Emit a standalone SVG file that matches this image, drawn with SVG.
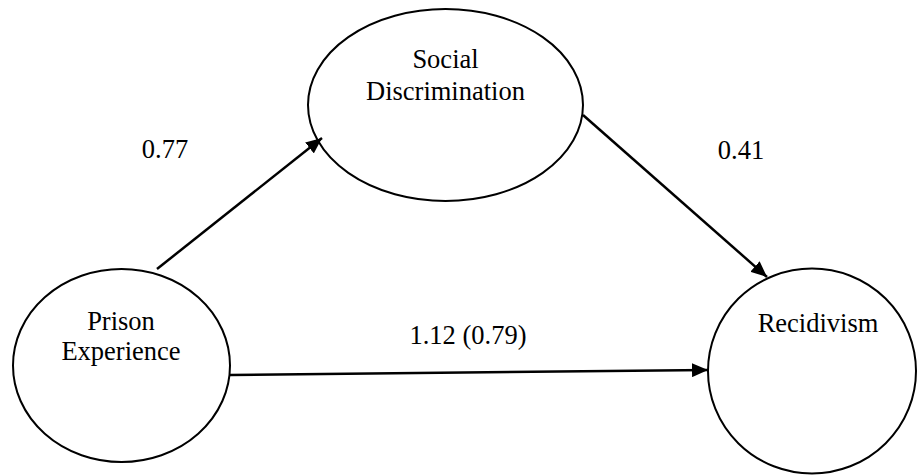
<svg xmlns="http://www.w3.org/2000/svg" width="919" height="475" viewBox="0 0 919 475">
  <style>
    .node { fill: #ffffff; stroke: #000000; stroke-width: 2; }
    .label { font-family: "Liberation Serif", "Times New Roman", serif; font-size: 26.5px; fill: #000000; }
    .edge { stroke: #000000; stroke-width: 2.5; fill: none; marker-end: url(#arrow); }
  </style>
  <defs>
    <marker id="arrow" markerUnits="userSpaceOnUse" markerWidth="18" markerHeight="14" refX="16" refY="7" orient="auto">
      <path d="M0,0 L16,7 L0,14 Z" fill="#000000"/>
    </marker>
  </defs>
  <rect width="919" height="475" fill="#ffffff"/>

  <g id="node-social-discrimination">
    <ellipse class="node" cx="445.5" cy="105" rx="137.5" ry="96"/>
    <text class="label" x="445.5" y="68" text-anchor="middle">Social</text>
    <text class="label" x="445.5" y="100" text-anchor="middle">Discrimination</text>
  </g>

  <g id="node-prison-experience">
    <ellipse class="node" cx="121.5" cy="365.5" rx="108.5" ry="96.5"/>
    <text class="label" x="121" y="330" text-anchor="middle">Prison</text>
    <text class="label" x="121" y="360" text-anchor="middle">Experience</text>
  </g>

  <g id="node-recidivism">
    <ellipse class="node" cx="812" cy="371" rx="104" ry="102.5"/>
    <text class="label" x="818" y="332" text-anchor="middle">Recidivism</text>
  </g>

  <g id="connectors">
    <line class="edge" x1="157" y1="269" x2="322" y2="138"/>
    <line class="edge" x1="583" y1="115" x2="767" y2="277"/>
    <line class="edge" x1="230" y1="375" x2="708" y2="370"/>
    <text class="label" x="165" y="158" text-anchor="middle">0.77</text>
    <text class="label" x="741" y="159" text-anchor="middle">0.41</text>
    <text class="label" x="468" y="344" text-anchor="middle">1.12 (0.79)</text>
  </g>
</svg>
